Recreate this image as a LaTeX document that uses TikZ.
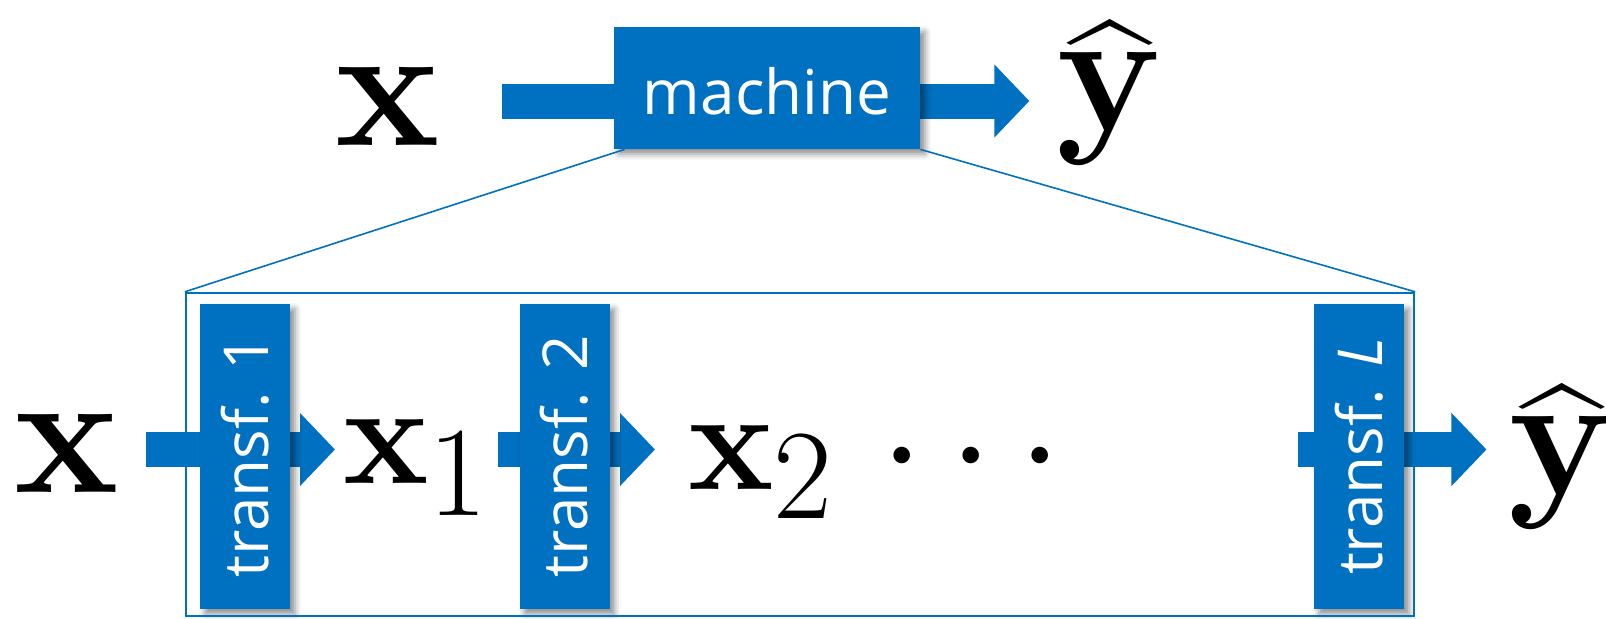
\RequirePackage{fix-cm}
\documentclass[tikz,border=0pt]{standalone}
\usepackage[no-math]{fontspec}
\newfontfamily\boxfont{Open Sans}
\usetikzlibrary{arrows.meta,shadows.blur,calc}
\definecolor{mblue}{RGB}{0,112,192}
\tikzset{
  sym/.style={inner sep=0pt, font=\fontsize{88}{88}\selectfont},
  subsym/.style={inner sep=0pt},
  blockarrow/.style={draw=mblue, line width=17.5pt,
    -{Triangle[length=17.5pt,width=35.5pt]}},
  stage/.style={fill=mblue, text=white, inner sep=0pt,
    font={\boxfont\fontsize{31}{31}\selectfont},
    blur shadow={shadow xshift=2.5pt, shadow yshift=-2.5pt,
      shadow blur radius=3pt, shadow opacity=45}},
  vstage/.style={stage, rotate=90, minimum width=152.5pt, minimum height=45pt},
  zoomline/.style={draw=mblue, line width=0.8pt}
}
% x_k with an enlarged, lowered index
\newcommand\stateof[2]{{\fontsize{72}{72}\selectfont$\mathbf{x}$}\raisebox{-#2}{\fontsize{64}{64}\selectfont #1}}
% bold y with a widened hat
\newsavebox\yglyph
\newcommand\predsym{\sbox\yglyph{$\mathbf{y}$}%
  \rlap{\makebox[\wd\yglyph]{\raisebox{-7pt}{\scalebox{2}[1]{$\hat{\phantom{\mathbf{y}}}$}}}}%
  \usebox\yglyph}
\begin{document}
\begin{tikzpicture}[x=0.5pt,y=-0.5pt]
\useasboundingbox (0,0) rectangle (1606,618);

% symbols
\node[sym, anchor=base] (xt) at (387.5,145) {$\mathbf{x}$};
\node[sym, anchor=base] (yt) at (1110,130) {\predsym};
\node[sym, anchor=base] (xb) at (66.5,492) {$\mathbf{x}$};
\node[subsym, anchor=base west] (x1) at (343,483) {\stateof{1}{16pt}};
\node[subsym, anchor=base west] (x2) at (688,489) {\stateof{2}{14.5pt}};
\node[inner sep=0pt, anchor=base, font=\fontsize{78}{78}\selectfont] (dots) at (971,494) {$\cdots$};
\node[sym, anchor=base] (yb) at (1562,494) {\predsym};

\coordinate (toprow) at (0,101);
\coordinate (row) at (0,449.5);

% block arrows
\draw[blockarrow, shorten <=31pt, shorten >=13.3pt] (xt.east |- toprow) -- (yt.west |- toprow);
\draw[blockarrow, shorten <=13.5pt, shorten >=4pt] (xb.east |- row) -- (x1.west |- row);
\draw[blockarrow, shorten <=4.8pt, shorten >=16.5pt] (x1.east |- row) -- (x2.west |- row);
\draw[blockarrow, shorten <=118pt, shorten >=10.75pt] (dots.east |- row) -- (yb.west |- row);

% processing boxes
\node[stage, minimum width=153pt, minimum height=61pt, text height=27pt] (machine) at (767,88) {machine};
\node[vstage] (t1) at (245,456.5) {transf. 1};
\node[vstage] (t2) at (564.5,456.5) {transf. 2};
\node[vstage] (tL) at (1359,456.5) {transf. {\itshape L}};

% expanded view of the machine
\node[draw=mblue, line width=1.2pt, inner sep=0pt, minimum width=614pt, minimum height=161.5pt] (inner) at (800,454.5) {};
\draw[zoomline] ([xshift=5.5pt]machine.south west) -- (inner.north west);
\draw[zoomline] (machine.south east) -- (inner.north east);
\end{tikzpicture}
\end{document}
